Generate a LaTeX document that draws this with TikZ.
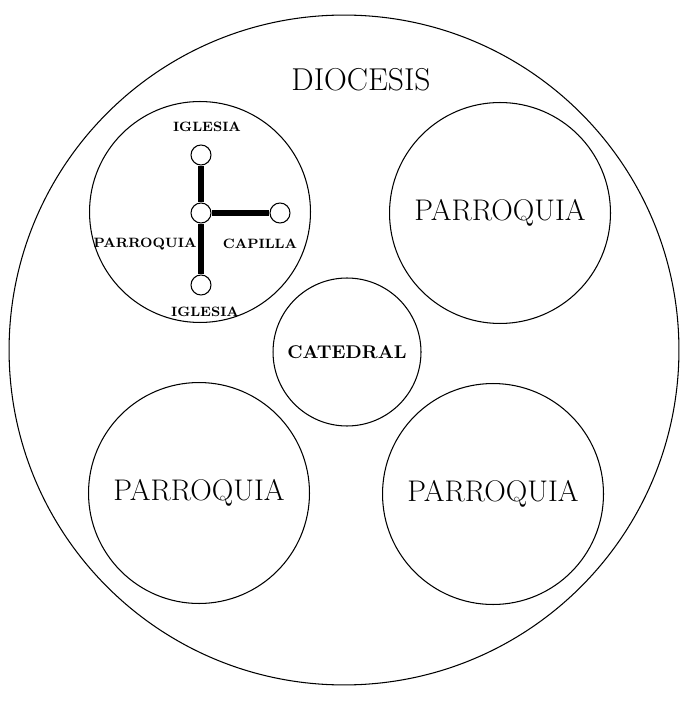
\documentclass[tikz,border=0pt]{standalone}
\usepackage{tikz}

\begin{document}
\begin{tikzpicture}[
    x=0.02cm,y=-0.02cm,
    line width=0.6pt,
    zone/.style={draw,circle,inner sep=0pt},
    bigzone/.style={zone,minimum size=4.42cm,font=\fontsize{17}{20}\selectfont},
    site/.style={draw,circle,inner sep=0pt,minimum size=0.4cm},
    link/.style={line width=3.8pt},
    tlabel/.style={inner sep=1pt,font=\bfseries\fontsize{7.7}{9}\selectfont},
  ]
  \useasboundingbox (0,0) rectangle (680,705);

  % diocesis
  \node (diocesis) at (344,350) [zone,minimum size=13.4cm] {};
  \node (diocesis-t) at (361,80) [font=\fontsize{18}{21}\selectfont] {DIOCESIS};

  % parroquias
  \node (p-0) at (200,212) [bigzone] {};
  \node (p-1) at (500,213) [bigzone] {PARROQUIA};
  \node (p-2) at (199,493) [bigzone] {PARROQUIA};
  \node (p-3) at (493,494) [bigzone] {PARROQUIA};

  \node (catedral) at (347,352) [zone,minimum size=2.96cm,font=\bfseries\fontsize{10.5}{12}\selectfont] {CATEDRAL};

  % red dentro de la parroquia
  \node (s-top) at (201,155) [site] {};
  \node (s-mid) at (201,213) [site] {};
  \node (s-right) at (280,213) [site] {};
  \node (s-bot) at (201,285) [site] {};

  \draw[link] (s-top) -- (s-mid);
  \draw[link] (s-mid) -- (s-bot);
  \draw[link] (s-mid) -- (s-right);

  \node (l-top) at (207,127) [tlabel] {IGLESIA};
  \node (l-mid) at (145,244) [tlabel] {PARROQUIA};
  \node (l-right) at (260,244) [tlabel] {CAPILLA};
  \node (l-bot) at (205,312) [tlabel] {IGLESIA};

\end{tikzpicture}
\end{document}
